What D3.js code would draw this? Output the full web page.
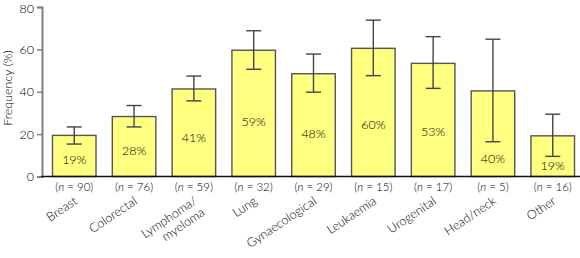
<!DOCTYPE html>
<html><head><meta charset="utf-8">
<script src="https://cdn.jsdelivr.net/npm/d3@7"></script>
<style>body{margin:0;background:#fff}svg{display:block;font-family:Lato,"Open Sans",sans-serif;font-weight:300}</style>
</head><body>
<svg id="c" width="580" height="258"></svg>
<script>
const categories = ["Breast","Colorectal","Lymphoma/\nmyeloma","Lung","Gynaecological","Leukaemia","Urogenital","Head/neck","Other"];
const counts = [90,76,59,32,29,15,17,5,16];
const values = [19.4,28.3,41.3,59.6,48.5,60.5,53.4,40.4,19.2];
const labels = ["19%","28%","41%","59%","48%","60%","53%","40%","19%"];
const errHigh = [23.4,33.5,47.4,68.8,57.8,73.8,66,64.8,29.4];
const errLow = [15.3,23.4,35.7,50.6,39.8,47.6,41.6,16.4,9.5];
const yTicks = [0,20,40,60,80];

const svg = d3.select("#c");
const x = d3.scaleBand().domain(d3.range(categories.length)).range([46.5,580.5]).paddingInner(0.272).paddingOuter(0.1);
const y = d3.scaleLinear().domain([0,80]).range([176.5,7]);

svg.selectAll("rect.bar").data(values).join("rect")
  .attr("x",(d,i)=>x(i)).attr("width",x.bandwidth())
  .attr("y",d=>y(d)).attr("height",d=>y(0)-y(d))
  .attr("fill","#ffff80").attr("stroke","#555").attr("stroke-width",1.4);

const eb = svg.append("g").attr("stroke","#444").attr("stroke-width",1.4);
values.forEach((v,i)=>{
  const cx = x(i)+x.bandwidth()/2;
  eb.append("line").attr("x1",cx).attr("x2",cx).attr("y1",y(errHigh[i])).attr("y2",y(errLow[i]));
  eb.append("line").attr("x1",cx-7.5).attr("x2",cx+7.5).attr("y1",y(errHigh[i])).attr("y2",y(errHigh[i]));
  eb.append("line").attr("x1",cx-7.5).attr("x2",cx+7.5).attr("y1",y(errLow[i])).attr("y2",y(errLow[i]));
});

svg.selectAll("text.val").data(labels).join("text")
  .attr("x",(d,i)=>x(i)+x.bandwidth()/2)
  .attr("y",(d,i)=>(y(errLow[i])+y(0))/2 - 1)
  .attr("dy","0.35em").attr("text-anchor","middle")
  .attr("font-size",12.5).attr("fill","#000").text(d=>d);

const ya = svg.append("g").attr("transform","translate(42,0)")
  .call(d3.axisLeft(y).tickValues(yTicks).tickSize(5).tickPadding(3));
ya.select(".domain").attr("stroke","#808080").attr("stroke-width",2);
ya.selectAll(".tick line").attr("stroke","#808080").attr("stroke-width",1.5);
ya.selectAll(".tick text").attr("font-size",12.5).attr("fill","#000").attr("font-family","Lato,sans-serif").attr("font-weight",300)
  .attr("dy",(d)=> d===80 ? "0.42em" : "0.32em");

svg.append("line").attr("x1",41).attr("x2",580).attr("y1",y(0)).attr("y2",y(0))
  .attr("stroke","#111").attr("stroke-width",1.5);

const nt = svg.selectAll("text.n").data(counts).join("text")
  .attr("x",(d,i)=>x(i)+x.bandwidth()/2).attr("y",191)
  .attr("text-anchor","middle").attr("font-size",11.5).attr("fill","#000");
nt.append("tspan").text("(");
nt.append("tspan").attr("font-style","italic").text("n");
nt.append("tspan").text(d=>" = "+d+")");

categories.forEach((c,i)=>{
  const cx = x(i)+x.bandwidth()/2+4;
  const lines = c.split("\n");
  const t = svg.append("text").attr("transform",`translate(${cx},203) rotate(-34)`)
    .attr("text-anchor","end").attr("font-size",12.5).attr("fill","#000");
  lines.forEach((l,j)=>{
    t.append("tspan").attr("x",0).attr("dy", j===0?0:"1.1em").text(l);
  });
});

svg.append("text").attr("transform","translate(12,88) rotate(-90)")
  .attr("text-anchor","middle").attr("font-size",12.5).attr("fill","#000").text("Frequency (%)");
</script>
</body></html>
